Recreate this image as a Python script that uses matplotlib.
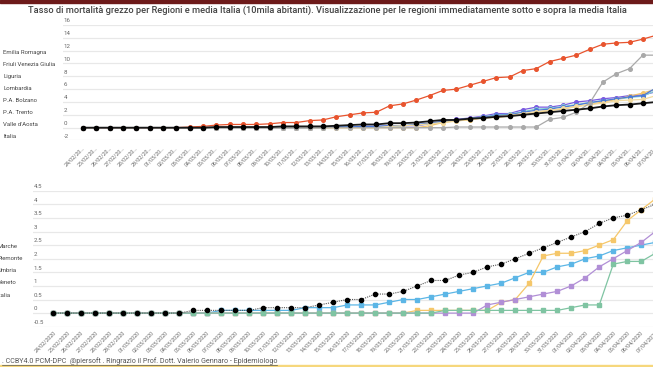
import matplotlib
matplotlib.use('Agg')
import matplotlib.pyplot as plt
import matplotlib.transforms as mtransforms
import pandas as pd

plt.rcParams['font.family'] = ['Roboto', 'DejaVu Sans']

dates = [d.strftime('%d/%m/%Y') for d in pd.date_range('2020-02-24', '2020-04-07')]

title = ("Tasso di mortalità grezzo per Regioni e media Italia (10mila abitanti). "
         "Visualizzazione per le regioni immediatamente sotto e sopra la media Italia")
footer = ". CCBY4.0 PCM-DPC  @piersoft . Ringrazio il Prof. Dott. Valerio Gennaro - Epidemiologo"

# ---- top chart data ----
top_names = ["Emilia Romagna", "Friuli Venezia Giulia", "Liguria", "Lombardia",
             "P.A. Bolzano", "P.A. Trento", "Valle d'Aosta", "Italia"]
italia = [0, 0, 0, 0, 0, 0, 0, 0, 0, 0, 0.1, 0.1, 0.1, 0.1, 0.1, 0.2, 0.2, 0.2, 0.2,
          0.3, 0.4, 0.5, 0.5, 0.7, 0.7, 0.8, 1.0, 1.2, 1.2, 1.4, 1.5, 1.7, 1.8, 2.0,
          2.2, 2.4, 2.6, 2.8, 3.0, 3.3, 3.5, 3.6, 3.8, 4.0]
emilia = [0, 0, 0, 0, 0, 0, 0, 0, 0, 0, 0, 0, 0, 0, 0, 0, 0, 0, 0.1,
          0.1, 0.1, 0.2, 0.2, 0.3, 0.3, 0.3, 0.6, 0.9, 1.3, 1.5, 1.8, 2.2, 2.2, 2.8,
          3.2, 3.2, 3.5, 4.0, 4.2, 4.5, 4.7, 5.0, 5.1, 5.6]
friuli = [0, 0, 0, 0, 0, 0, 0, 0, 0, 0, 0, 0, 0, 0, 0, 0, 0, 0, 0,
          0.1, 0.1, 0.1, 0.2, 0.2, 0.3, 0.4, 0.6, 0.9, 1.2, 1.4, 1.7, 2.0, 2.1, 2.5,
          2.9, 3.0, 3.3, 3.6, 3.9, 4.2, 4.4, 4.7, 4.9, 5.8]
liguria = [0, 0, 0, 0, 0, 0, 0, 0, 0, 0, 0, 0, 0, 0, 0, 0, 0, 0, 0,
           0, 0, 0, 0, 0, 0, 0, 0.3, 0.8, 1.1, 1.2, 1.5, 1.6, 1.8, 2.0,
           2.4, 2.7, 2.9, 3.3, 3.6, 4.0, 4.4, 4.9, 5.4, 6.0]
lombardia = [0, 0, 0, 0, 0, 0, 0, 0, 0.1, 0.2, 0.4, 0.5, 0.5, 0.5, 0.6, 0.8, 0.8, 1.1, 1.2,
             1.7, 2.0, 2.3, 2.4, 3.4, 3.7, 4.3, 5.0, 5.8, 6.0, 6.6, 7.2, 7.8, 7.9, 8.9,
             9.2, 10.3, 10.8, 11.3, 12.2, 13.0, 13.2, 13.3, 13.8, 14.4]
bolzano = [0, 0, 0, 0, 0, 0, 0, 0, 0, 0, 0, 0, 0, 0, 0, 0, 0, 0, 0,
           0.1, 0.1, 0.2, 0.2, 0.3, 0.3, 0.5, 0.7, 1.0, 1.2, 1.4, 1.6, 1.9, 2.0, 2.4,
           2.7, 2.9, 3.2, 3.5, 3.9, 4.2, 4.5, 4.8, 5.0, 6.2]
trento = [0, 0, 0, 0, 0, 0, 0, 0, 0, 0, 0, 0, 0, 0, 0, 0, 0, 0, 0,
          0, 0, 0, 0, 0.2, 0.3, 0.4, 0.6, 0.8, 1.0, 1.3, 1.5, 1.7, 1.9, 2.2,
          2.5, 2.7, 3.0, 3.3, 3.6, 3.8, 4.2, 4.3, 4.4, 5.0]
valle = [0, 0, 0, 0, 0, 0, 0, 0, 0, 0, 0, 0, 0, 0, 0, 0, 0, 0, 0,
         0, 0, 0, 0, 0, 0, 0, 0, 0, 0.1, 0.1, 0.1, 0.1, 0.1, 0.1,
         0.1, 1.3, 1.6, 2.4, 3.8, 7.1, 8.4, 9.2, 11.3, 11.3]
top_yticks = [16, 14, 12, 10, 8, 6, 4, 2, 0, -2]

# ---- bottom chart data ----
bot_names = ["Marche", "Piemonte", "Umbria", "Veneto", "Italia"]
marche = [0, 0, 0, 0, 0, 0, 0, 0, 0, 0, 0, 0, 0.1, 0.1, 0.1, 0.1, 0.1, 0.1, 0.2,
          0.2, 0.2, 0.3, 0.3, 0.3, 0.4, 0.5, 0.5, 0.6, 0.7, 0.8, 0.9, 1.0, 1.1, 1.3,
          1.5, 1.5, 1.7, 1.8, 2.0, 2.1, 2.3, 2.4, 2.5, 2.6]
piemonte = [0, 0, 0, 0, 0, 0, 0, 0, 0, 0, 0, 0, 0, 0, 0, 0, 0, 0, 0,
            0, 0, 0, 0, 0, 0, 0, 0.1, 0.1, 0.1, 0.1, 0.1, 0.1, 0.4, 0.5,
            1.1, 2.1, 2.2, 2.2, 2.3, 2.5, 2.7, 3.4, 3.8, 4.2]
umbria = [0, 0, 0, 0, 0, 0, 0, 0, 0, 0, 0, 0, 0, 0, 0, 0, 0, 0, 0,
          0, 0, 0, 0, 0, 0, 0, 0, 0, 0, 0, 0, 0.3, 0.4, 0.5,
          0.6, 0.7, 0.8, 1.0, 1.3, 1.7, 2.0, 2.3, 2.6, 3.0]
veneto = [0, 0, 0, 0, 0, 0, 0, 0, 0, 0, 0, 0, 0, 0, 0, 0, 0, 0, 0,
          0, 0, 0, 0, 0, 0, 0, 0, 0, 0.1, 0.1, 0.1, 0.1, 0.1, 0.1,
          0.1, 0.1, 0.1, 0.2, 0.3, 0.3, 1.8, 1.9, 1.9, 2.2]
bot_yticks = [4.5, 4, 3.5, 3, 2.5, 2, 1.5, 1, 0.5, 0, -0.5]

W, H = 653, 367
fig = plt.figure(figsize=(W / 100, H / 100), dpi=100)
fig.patch.set_facecolor('white')


def px_axes(l, t, r, b):
    return fig.add_axes([l / W, 1 - b / H, (r - l) / W, (b - t) / H])


def fx(px):
    return px / W


def fy(py):
    return 1 - py / H


# top maroon bar and bottom yellow line
fig.patches.append(plt.Rectangle((0, fy(2.5)), 1, 2.5 / H, transform=fig.transFigure,
                                 color='#6d1a1a', zorder=0))
fig.patches.append(plt.Rectangle((0, 0), 1, 2 / H, transform=fig.transFigure,
                                 color='#f6d77c', zorder=0))

fig.text(fx(327), fy(10.5), title, ha='center', va='center', fontsize=6.65,
         color='#444444', fontweight='medium')

grid_c = '#e8e8e8'
lab_c = '#666666'


def style_axes(ax, yticks, lab_fs):
    ax.set_facecolor('none')
    for s in ax.spines.values():
        s.set_visible(False)
    ax.set_xticks([])
    ax.set_yticks([])
    for v in yticks:
        ax.axhline(v, color=grid_c, lw=0.9, zorder=0)
        tr = mtransforms.blended_transform_factory(ax.transAxes, ax.transData)
        lab = ('%g' % v)
        ax.annotate(lab, xy=(0, v), xycoords=tr, xytext=(0.5, 1.2), textcoords='offset points',
                    ha='left', va='bottom', fontsize=lab_fs, color=lab_c)


# ---------------- top chart ----------------
axT = px_axes(63, 25, 670, 140.5)
axT.set_xlim(-1.5, (670 - 83) / 13.33)
axT.set_ylim(-2, 16)
style_axes(axT, top_yticks, 4.4)
x = list(range(len(dates)))
top_series = [emilia, friuli, liguria, lombardia, bolzano, trento, valle, italia]
top_colors = ['#7a5ae0', '#86d0d2', '#f4c56a', '#e8542e', '#4c79d6', '#f3dba0', '#a9a9a9', '#111111']
for name, ys, c in zip(top_names, top_series, top_colors):
    if name == 'Italia':
        axT.plot(x, ys, color='#1a1a1a', lw=1.3, marker='o', ms=3.0, mfc='#000000',
                 mec='#000000', zorder=5, clip_on=False)
    else:
        axT.plot(x, ys, color=c, lw=0.9, marker='o', ms=2.6, mfc=c, mec=c, zorder=3,
                 clip_on=False)
trT = mtransforms.blended_transform_factory(axT.transData, fig.transFigure)
for i, d in enumerate(dates):
    axT.text(i + 0.05, fy(147.5), d[:8] + '…', transform=trT, rotation=45,
             rotation_mode='anchor', ha='right', va='center', fontsize=3.9, color=lab_c)
for k, name in enumerate(top_names):
    fig.text(fx(3), fy(52.5 + k * 11.95), name, ha='left', va='center', fontsize=4.3,
             color='#444444')

# ---------------- bottom chart ----------------
axB = px_axes(33, 190.7, 670, 326.7)
axB.set_xlim(-1.45, (670 - 53.3) / 14.0)
axB.set_ylim(-0.5, 4.5)
style_axes(axB, bot_yticks, 4.4)
bot_series = [marche, piemonte, umbria, veneto]
bot_colors = ['#5cb6e6', '#f5c76a', '#b18fd6', '#7fc4a2']
for ys, c in zip(bot_series, bot_colors):
    axB.plot(x, ys, color=c, lw=0.9, marker='s', ms=2.4, mfc=c, mec=c, zorder=3,
             clip_on=False)
axB.plot(x, italia, color='#555555', lw=0.8, ls=(0, (1, 1)), marker='o', ms=3.0,
         mfc='#000000', mec='#000000', zorder=5, clip_on=False)
trB = mtransforms.blended_transform_factory(axB.transData, fig.transFigure)
for i, d in enumerate(dates):
    axB.text(i + 0.1, fy(331.5), d, transform=trB, rotation=45,
             rotation_mode='anchor', ha='right', va='center', fontsize=3.9, color=lab_c)
for k, name in enumerate(bot_names):
    fig.text(fx(-2.5), fy(246 + k * 12.3), name, ha='left', va='center', fontsize=4.3,
             color='#444444')

# footer with underline
ft = fig.text(fx(1.5), fy(361.5), footer, ha='left', va='center', fontsize=5.1,
              color='#555555')
fig.canvas.draw()
bb = ft.get_window_extent()
fig.add_artist(plt.Line2D([bb.x0 / W, bb.x1 / W], [fy(364.6), fy(364.6)],
                          transform=fig.transFigure, color='#555555', lw=0.5))

fig.savefig('out.png', dpi=100)
